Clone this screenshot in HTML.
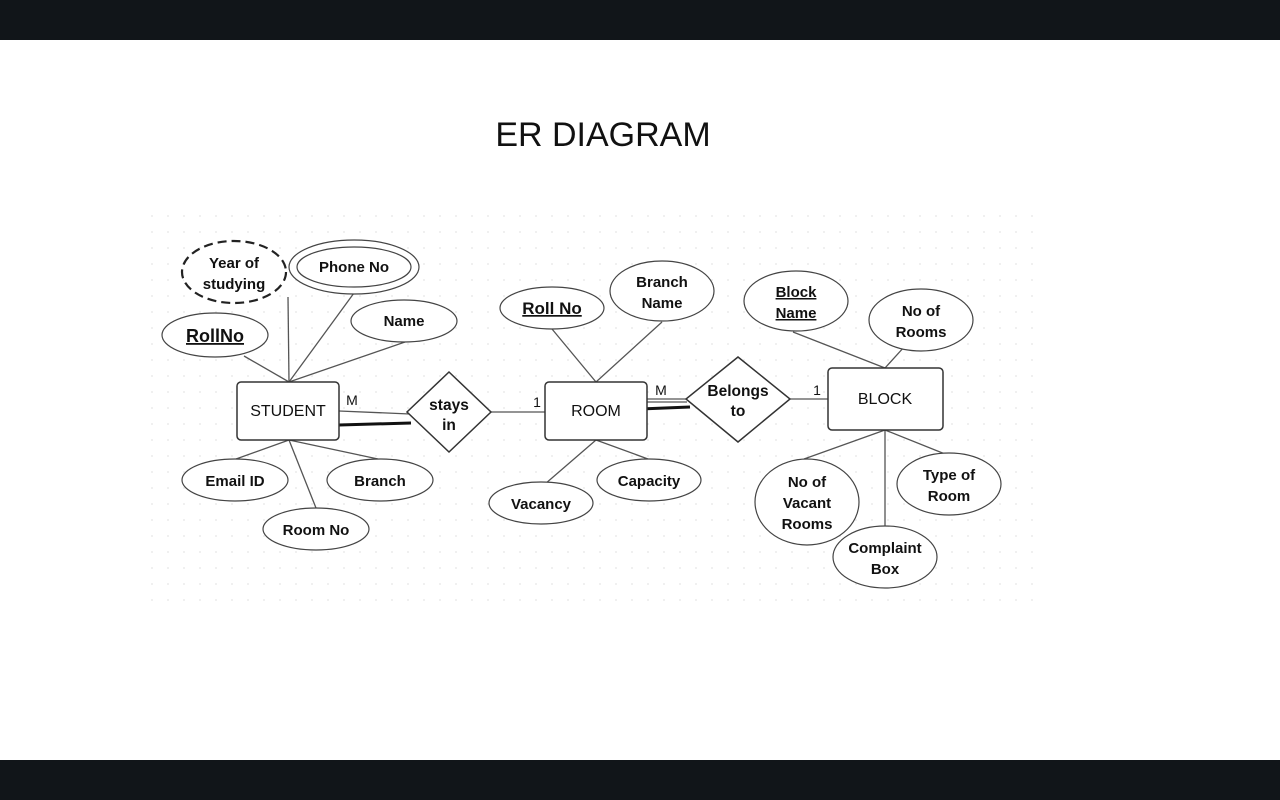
<!DOCTYPE html>
<html><head><meta charset="utf-8"><style>
html,body{margin:0;padding:0;background:#fff;}
svg{display:block}
text{font-family:"Liberation Sans",Arial,sans-serif;fill:#111;}
</style></head><body>
<svg width="1280" height="800" viewBox="0 0 1280 800" xmlns="http://www.w3.org/2000/svg">
<defs>
<pattern id="dots" width="16" height="16" patternUnits="userSpaceOnUse"><circle cx="8" cy="8" r="0.9" fill="#e6e6e6"/></pattern>
</defs>
<rect width="1280" height="800" fill="#fff"/>
<rect x="0" y="0" width="1280" height="40" fill="#111519"/>
<rect x="0" y="760" width="1280" height="40" fill="#111519"/>
<rect x="145" y="205" width="900" height="410" fill="url(#dots)"/>
<text x="603" y="146" font-size="34" text-anchor="middle" fill="#111">ER DIAGRAM</text>

<g stroke="#555" stroke-width="1.3" fill="none">
<line x1="289" y1="382" x2="244" y2="356"/>
<line x1="289" y1="382" x2="288" y2="297"/>
<line x1="289" y1="382" x2="354" y2="293"/>
<line x1="289" y1="382" x2="405" y2="342"/>
<line x1="289" y1="440" x2="236" y2="459"/>
<line x1="289" y1="440" x2="316" y2="508"/>
<line x1="289" y1="440" x2="378" y2="459"/>
<line x1="339" y1="411" x2="410" y2="414"/>
<line x1="491" y1="412" x2="545" y2="412"/>
<line x1="596" y1="382" x2="552" y2="329"/>
<line x1="596" y1="382" x2="662" y2="322"/>
<line x1="596" y1="440" x2="545" y2="484"/>
<line x1="596" y1="440" x2="648" y2="459"/>
<line x1="647" y1="399" x2="687" y2="399"/>
<line x1="647" y1="402" x2="687" y2="402"/>
<line x1="790" y1="399" x2="828" y2="399"/>
<line x1="885" y1="368" x2="793" y2="332"/>
<line x1="885" y1="368" x2="905" y2="346"/>
<line x1="885" y1="430" x2="804" y2="459"/>
<line x1="885" y1="430" x2="885" y2="526"/>
<line x1="885" y1="430" x2="945" y2="454"/>
</g>
<g stroke="#111" stroke-width="3">
<line x1="339" y1="425" x2="411" y2="423"/>
<line x1="640" y1="409" x2="690" y2="407"/>
</g>

<g stroke="#333" stroke-width="1.5" fill="#fff">
<rect x="237" y="382" width="102" height="58" rx="4"/>
<rect x="545" y="382" width="102" height="58" rx="4"/>
<rect x="828" y="368" width="115" height="62" rx="4"/>
<polygon points="449,372 491,412 449,452 407,412"/>
<polygon points="738,357 790,399 738,442 686,399"/>
</g>

<g stroke="#444" stroke-width="1.2" fill="#fff">
<ellipse cx="234" cy="272" rx="52" ry="31" stroke="#222" stroke-width="2.2" stroke-dasharray="9,5"/>
<ellipse cx="354" cy="267" rx="65" ry="27"/>
<ellipse cx="354" cy="267" rx="57" ry="20"/>
<ellipse cx="404" cy="321" rx="53" ry="21"/>
<ellipse cx="215" cy="335" rx="53" ry="22"/>
<ellipse cx="235" cy="480" rx="53" ry="21"/>
<ellipse cx="380" cy="480" rx="53" ry="21"/>
<ellipse cx="316" cy="529" rx="53" ry="21"/>
<ellipse cx="552" cy="308" rx="52" ry="21"/>
<ellipse cx="662" cy="291" rx="52" ry="30"/>
<ellipse cx="541" cy="503" rx="52" ry="21"/>
<ellipse cx="649" cy="480" rx="52" ry="21"/>
<ellipse cx="796" cy="301" rx="52" ry="30"/>
<ellipse cx="921" cy="320" rx="52" ry="31"/>
<ellipse cx="807" cy="502" rx="52" ry="43"/>
<ellipse cx="949" cy="484" rx="52" ry="31"/>
<ellipse cx="885" cy="557" rx="52" ry="31"/>
</g>

<g font-size="16" text-anchor="middle">
<text x="288" y="416">STUDENT</text>
<text x="596" y="416">ROOM</text>
<text x="885" y="404">BLOCK</text>
</g>
<g font-size="15.5" font-weight="bold" text-anchor="middle">
<text x="449" y="410">stays</text><text x="449" y="430">in</text>
<text x="738" y="396">Belongs</text><text x="738" y="416">to</text>
</g>
<g font-size="15" font-weight="bold" text-anchor="middle">
<text x="234" y="268">Year of</text><text x="234" y="289">studying</text>
<text x="354" y="272">Phone No</text>
<text x="404" y="326">Name</text>
<text x="215" y="342" font-size="18" text-decoration="underline">RollNo</text>
<text x="235" y="486">Email ID</text>
<text x="380" y="486">Branch</text>
<text x="316" y="535">Room No</text>
<text x="552" y="314" font-size="17" text-decoration="underline">Roll No</text>
<text x="662" y="287">Branch</text><text x="662" y="308">Name</text>
<text x="541" y="509">Vacancy</text>
<text x="649" y="486">Capacity</text>
<text x="796" y="297" text-decoration="underline">Block</text><text x="796" y="318" text-decoration="underline">Name</text>
<text x="921" y="316">No of</text><text x="921" y="337">Rooms</text>
<text x="807" y="487">No of</text><text x="807" y="508">Vacant</text><text x="807" y="529">Rooms</text>
<text x="949" y="480">Type of</text><text x="949" y="501">Room</text>
<text x="885" y="553">Complaint</text><text x="885" y="574">Box</text>
</g>
<g font-size="14" text-anchor="middle">
<text x="352" y="405">M</text>
<text x="537" y="407">1</text>
<text x="661" y="395">M</text>
<text x="817" y="395">1</text>
</g>
</svg>
</body></html>
